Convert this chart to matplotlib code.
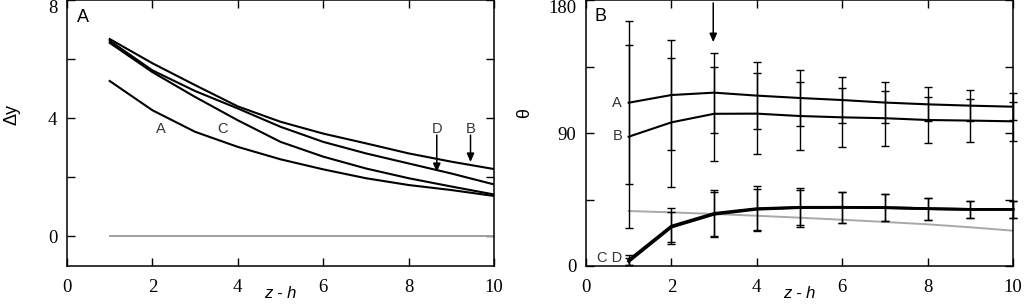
import numpy as np
import matplotlib
matplotlib.use("Agg")
import matplotlib.pyplot as plt

# ---------------- data ----------------
z = [1, 2, 3, 4, 5, 6, 7, 8, 9, 10]

# Panel A: delta y
dy_A = [5.26, 4.27, 3.54, 3.03, 2.61, 2.27, 1.97, 1.74, 1.57, 1.37]
dy_B = [6.68, 5.86, 5.12, 4.40, 3.88, 3.48, 3.15, 2.81, 2.53, 2.28]
dy_C = [6.55, 5.56, 4.72, 3.93, 3.20, 2.70, 2.30, 1.97, 1.69, 1.42]
dy_D = [6.62, 5.62, 4.92, 4.33, 3.71, 3.20, 2.81, 2.47, 2.13, 1.76]
dy_ref = [0, 0, 0, 0, 0, 0, 0, 0, 0, 0]

# Panel B: theta with error bars
th_A = [110.5, 115.7, 117.3, 115.3, 113.7, 112.3, 110.6, 109.4, 108.5, 107.8]
err_A = [55.0, 37.5, 27.0, 22.5, 18.7, 15.6, 14.0, 11.4, 10.4, 9.0]
th_B = [87.5, 97.2, 103.0, 103.1, 101.5, 100.6, 100.0, 98.8, 98.4, 97.9]
err_B = [62.0, 43.5, 32.0, 27.4, 23.0, 20.0, 18.6, 15.8, 14.7, 13.0]
th_C = [4.0, 27.0, 35.6, 38.8, 39.7, 39.7, 39.5, 38.8, 38.3, 38.3]
err_C = [3.5, 12.0, 16.0, 15.0, 13.0, 10.5, 9.0, 7.5, 6.0, 6.0]
th_D = [3.0, 26.3, 35.0, 38.4, 39.5, 39.7, 39.5, 38.8, 38.3, 38.3]
err_D = [2.5, 10.0, 15.0, 14.0, 12.0, 10.5, 9.0, 7.5, 6.0, 6.0]
th_ref = [37.2, 36.3, 35.2, 34.0, 32.7, 31.3, 29.8, 28.2, 26.2, 23.9]

xticks = [0, 2, 4, 6, 8, 10]
yticksA = [0, 2, 4, 6, 8]
ylabelsA = ["0", "", "4", "", "8"]
yticksB = [0, 45, 90, 135, 180]
ylabelsB = ["0", "", "90", "", "180"]

# ---------------- figure ----------------
W, H = 1024, 306
fig = plt.figure(figsize=(W / 100, H / 100), dpi=100)
serif = "Liberation Serif"
sans = "Liberation Sans"

axA = fig.add_axes([67 / W, 1 - 266 / H, (494 - 67) / W, 266 / H])
axB = fig.add_axes([586 / W, 1 - 266 / H, (1013 - 586) / W, 266 / H])

def style(ax, yt, yl, ylim):
    ax.set_xlim(0, 10)
    ax.set_ylim(*ylim)
    ax.set_xticks(xticks)
    ax.set_xticklabels([str(t) for t in xticks], fontfamily=serif, fontsize=13.5)
    ax.set_yticks(yt)
    labs = ax.set_yticklabels(yl, fontfamily=serif, fontsize=13.5)
    labs[-1].set_va("top")
    ax.tick_params(direction="in", length=6, width=1, top=True, right=True,
                   color="black")
    ax.tick_params(axis="x", pad=9)
    ax.tick_params(axis="y", pad=7)
    for s in ax.spines.values():
        s.set_linewidth(1.1)

style(axA, yticksA, ylabelsA, (-1.0, 8.0))
style(axB, yticksB, ylabelsB, (0, 180))

# Panel A curves
axA.plot(z, dy_ref, color="#a0a0a0", lw=1.4)
for y in (dy_A, dy_B, dy_C, dy_D):
    axA.plot(z, y, color="black", lw=1.5)

axA.text(0.38, 7.4, "A", fontfamily=sans, fontsize=13, va="center", ha="center")
axA.text(2.2, 3.62, "A", fontfamily=sans, fontsize=10.5, color="#333333",
         ha="center", va="center")
axA.text(3.65, 3.62, "C", fontfamily=sans, fontsize=10.5, color="#333333",
         ha="center", va="center")
axA.text(8.66, 3.62, "D", fontfamily=sans, fontsize=10.5, color="#333333",
         ha="center", va="center")
axA.text(9.45, 3.62, "B", fontfamily=sans, fontsize=10.5, color="#333333",
         ha="center", va="center")
arrow = dict(arrowstyle="-|>,head_length=0.5,head_width=0.22", color="black",
             lw=1.1, shrinkA=0, shrinkB=0)
axA.annotate("", xy=(8.66, 2.18), xytext=(8.66, 3.43), arrowprops=arrow)
axA.annotate("", xy=(9.45, 2.52), xytext=(9.45, 3.43), arrowprops=arrow)

axA.set_ylabel("Δy", fontfamily=sans, fontsize=13)
axA.yaxis.set_label_coords(-0.108, 0.57)
axA.set_xlabel("z - h", fontfamily=sans, fontstyle="italic", fontsize=12)
axA.xaxis.set_label_coords(0.5, -0.075)

# Panel B
axB.plot(z, th_ref, color="#a8a8a8", lw=1.4)
ekw = dict(color="black", lw=1.5, elinewidth=1.0, capsize=3.2, capthick=1.0,
           clip_on=False)
axB.errorbar(z, th_A, yerr=err_A, **ekw)
axB.errorbar(z, th_B, yerr=err_B, **ekw)
ekw2 = dict(ekw)
ekw2["lw"] = 2.0
axB.errorbar(z, th_C, yerr=err_C, **ekw2)
axB.errorbar(z, th_D, yerr=err_D, **ekw2)

axB.text(0.34, 168.7, "B", fontfamily=sans, fontsize=13, va="center", ha="center")
axB.text(0.73, 110.5, "A", fontfamily=sans, fontsize=10.5, color="#333333",
         ha="center", va="center")
axB.text(0.73, 88.0, "B", fontfamily=sans, fontsize=10.5, color="#333333",
         ha="center", va="center")
axB.text(0.55, 5.6, "C D", fontfamily=sans, fontsize=10.5, color="#333333",
         ha="center", va="center")
axB.annotate("", xy=(2.98, 151.5), xytext=(2.98, 178), arrowprops=arrow,
             annotation_clip=False)

axB.set_ylabel("θ", fontfamily=sans, fontsize=13)
axB.yaxis.set_label_coords(-0.124, 0.575)
axB.set_xlabel("z - h", fontfamily=sans, fontstyle="italic", fontsize=12)
axB.xaxis.set_label_coords(0.5, -0.075)

fig.savefig("out.png", dpi=100)
